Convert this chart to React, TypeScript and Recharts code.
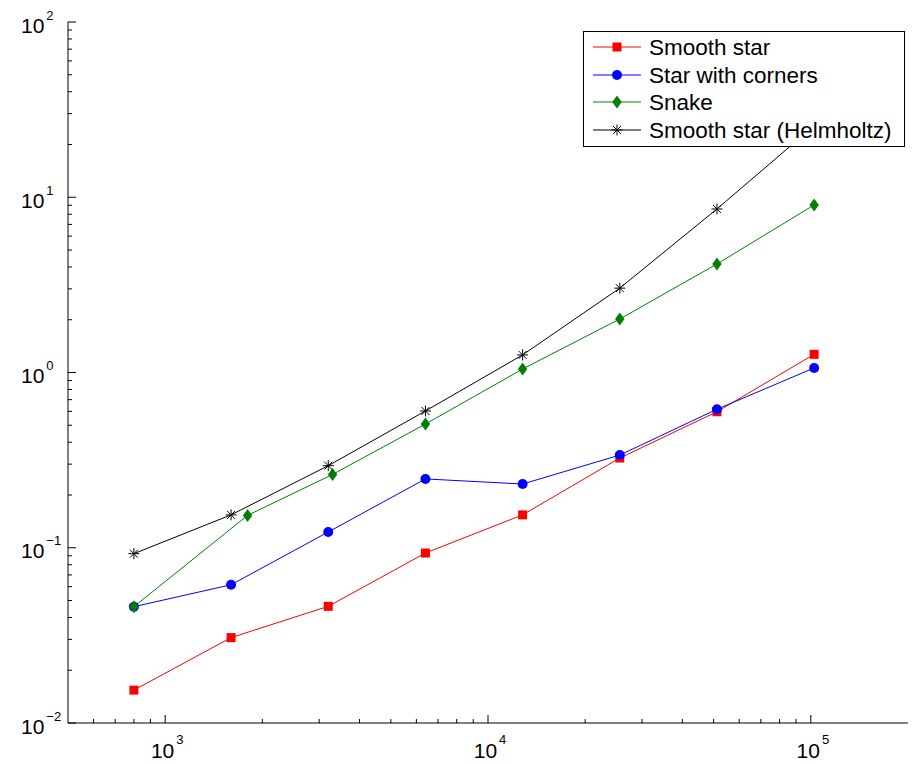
import { LineChart, Line, XAxis, YAxis, Legend } from "recharts";

const FONT = "'Liberation Sans', Arial, Helvetica, sans-serif";

// sample sizes (x) and errors (y) per series
const smoothStarX = [800, 1600, 3200, 6400, 12800, 25600, 51200, 102400];
const smoothStarY = [0.0154, 0.0307, 0.0463, 0.0933, 0.154, 0.325, 0.597, 1.27];

const cornersX = [800, 1600, 3200, 6400, 12800, 25600, 51200, 102400];
const cornersY = [0.0461, 0.0615, 0.123, 0.247, 0.231, 0.338, 0.617, 1.062];

const snakeX = [800, 1800, 3300, 6400, 12800, 25600, 51200, 102400];
const snakeY = [0.0461, 0.153, 0.262, 0.508, 1.047, 2.02, 4.16, 9.04];

const helmholtzX = [800, 1600, 3200, 6400, 12800, 25600, 51200, 102400];
const helmholtzY = [0.0925, 0.154, 0.294, 0.603, 1.26, 3.03, 8.57, 25.6];

const X_DOMAIN = [500, 200000];
const Y_DOMAIN = [0.01, 100];

const X_MAJOR = [1000, 10000, 100000];
const X_MINOR = [
  600, 700, 800, 900, 2000, 3000, 4000, 5000, 6000, 7000, 8000, 9000,
  20000, 30000, 40000, 50000, 60000, 70000, 80000, 90000,
];
const Y_MAJOR = [0.01, 0.1, 1, 10, 100];
const Y_MINOR = [
  0.02, 0.03, 0.04, 0.05, 0.06, 0.07, 0.08, 0.09,
  0.2, 0.3, 0.4, 0.5, 0.6, 0.7, 0.8, 0.9,
  2, 3, 4, 5, 6, 7, 8, 9,
  20, 30, 40, 50, 60, 70, 80, 90,
];
const X_TICKS = [...X_MAJOR, ...X_MINOR].sort((a, b) => a - b);
const Y_TICKS = [...Y_MAJOR, ...Y_MINOR].sort((a, b) => a - b);

const toPoints = (xs: number[], ys: number[]) => xs.map((x, i) => ({ x, y: ys[i] }));

const series = [
  { name: "Smooth star", color: "#ff0000", marker: "square", data: toPoints(smoothStarX, smoothStarY) },
  { name: "Star with corners", color: "#0000ff", marker: "circle", data: toPoints(cornersX, cornersY) },
  { name: "Snake", color: "#008000", marker: "diamond", data: toPoints(snakeX, snakeY) },
  { name: "Smooth star (Helmholtz)", color: "#000000", marker: "star", data: toPoints(helmholtzX, helmholtzY) },
];

function Marker({ type, cx, cy, color }: { type: string; cx: number; cy: number; color: string }) {
  if (type === "square") {
    return <rect x={cx - 4.5} y={cy - 4.5} width={9} height={9} fill={color} />;
  }
  if (type === "circle") {
    return <circle cx={cx} cy={cy} r={5} fill={color} />;
  }
  if (type === "diamond") {
    return (
      <polygon
        points={`${cx},${cy - 6.5} ${cx + 4.7},${cy} ${cx},${cy + 6.5} ${cx - 4.7},${cy}`}
        fill={color}
      />
    );
  }
  const r = 5.5;
  const d = 4;
  return (
    <g stroke={color} strokeWidth={1}>
      <line x1={cx - r} y1={cy} x2={cx + r} y2={cy} />
      <line x1={cx} y1={cy - r} x2={cx} y2={cy + r} />
      <line x1={cx - d} y1={cy - d} x2={cx + d} y2={cy + d} />
      <line x1={cx - d} y1={cy + d} x2={cx + d} y2={cy - d} />
    </g>
  );
}

function expLabel(v: number) {
  const e = Math.round(Math.log10(v));
  return e < 0 ? `\u2212${-e}` : `${e}`;
}

function XTick(props: any) {
  const { x, y, payload, side } = props;
  const v = payload.value;
  const major = X_MAJOR.includes(v);
  const len = major ? 8 : 4;
  const dir = side === "top" ? 1 : -1;
  return (
    <g>
      <line x1={x} y1={y} x2={x} y2={y + dir * len} stroke="#000" strokeWidth={1} />
      {side === "bottom" && major && (
        <text x={x + 2} y={y + 35} textAnchor="middle" fontSize={21} fontFamily={FONT} fill="#000">
          <tspan>10</tspan>
          <tspan dx={2} dy={-14} fontSize={13}>{expLabel(v)}</tspan>
        </text>
      )}
    </g>
  );
}

function YTick(props: any) {
  const { x, y, payload, side } = props;
  const v = payload.value;
  const major = Y_MAJOR.includes(v);
  const len = major ? 8 : 4;
  const dir = side === "left" ? 1 : -1;
  return (
    <g>
      <line x1={x} y1={y} x2={x + dir * len} y2={y} stroke="#000" strokeWidth={1} />
      {side === "left" && major && (
        <text x={21} y={y + 10.5} textAnchor="start" fontSize={21} fontFamily={FONT} fill="#000">
          <tspan>10</tspan>
          <tspan dx={2} dy={-13} fontSize={13}>{expLabel(v)}</tspan>
        </text>
      )}
    </g>
  );
}

function LegendBox() {
  const rowY = [16, 44, 71, 99];
  return (
    <svg width={322} height={116} style={{ display: "block" }}>
      <rect x={0.5} y={0.5} width={321} height={115} fill="#fff" stroke="#000" strokeWidth={1} />
      {series.map((s, i) => (
        <g key={s.name}>
          <line x1={10} y1={rowY[i]} x2={58} y2={rowY[i]} stroke={s.color} strokeWidth={1} />
          <Marker type={s.marker} cx={34} cy={rowY[i]} color={s.color} />
          <text x={66} y={rowY[i] + 8} fontSize={22.5} fontFamily={FONT} fill="#000">
            {s.name}
          </text>
        </g>
      ))}
    </svg>
  );
}

export default function App() {
  return (
    <div style={{ position: "absolute", left: 0, top: 0, width: 915, height: 764, background: "#fff" }}>
      <LineChart width={915} height={764} margin={{ top: 22, right: 7, bottom: 0, left: 0 }}>
        <XAxis
          xAxisId="b"
          orientation="bottom"
          type="number"
          dataKey="x"
          scale="log"
          domain={X_DOMAIN}
          allowDataOverflow
          ticks={X_TICKS}
          interval={0}
          height={41}
          tickSize={0}
          tickMargin={0}
          tickLine={false}
          axisLine={{ stroke: "#000", strokeWidth: 1 }}
          tick={(p: any) => <XTick {...p} side="bottom" />}
        />
        <XAxis
          xAxisId="t"
          orientation="top"
          type="number"
          dataKey="x"
          scale="log"
          domain={X_DOMAIN}
          allowDataOverflow
          ticks={X_TICKS}
          interval={0}
          height={0}
          tickSize={0}
          tickMargin={0}
          tickLine={false}
          axisLine={{ stroke: "#000", strokeWidth: 1 }}
          tick={(p: any) => <XTick {...p} side="top" />}
        />
        <YAxis
          yAxisId="l"
          orientation="left"
          type="number"
          dataKey="y"
          scale="log"
          domain={Y_DOMAIN}
          allowDataOverflow
          ticks={Y_TICKS}
          interval={0}
          width={68}
          tickSize={0}
          tickMargin={0}
          tickLine={false}
          axisLine={{ stroke: "#000", strokeWidth: 1 }}
          tick={(p: any) => <YTick {...p} side="left" />}
        />
        <YAxis
          yAxisId="r"
          orientation="right"
          type="number"
          dataKey="y"
          scale="log"
          domain={Y_DOMAIN}
          allowDataOverflow
          ticks={Y_TICKS}
          interval={0}
          width={0}
          tickSize={0}
          tickMargin={0}
          tickLine={false}
          axisLine={{ stroke: "#000", strokeWidth: 1 }}
          tick={(p: any) => <YTick {...p} side="right" />}
        />
        {series.map((s) => (
          <Line
            key={s.name}
            xAxisId="b"
            yAxisId="l"
            data={s.data}
            dataKey="y"
            name={s.name}
            type="linear"
            stroke={s.color}
            strokeWidth={1}
            isAnimationActive={false}
            activeDot={false}
            dot={(p: any) => (
              <Marker key={`${s.name}-${p.index}`} type={s.marker} cx={p.cx} cy={p.cy} color={s.color} />
            )}
          />
        ))}
        <Legend
          layout="vertical"
          align="center"
          verticalAlign="middle"
          wrapperStyle={{ position: "absolute", left: 583, top: 31, width: 322, height: 116 }}
          content={() => <LegendBox />}
        />
      </LineChart>
    </div>
  );
}
